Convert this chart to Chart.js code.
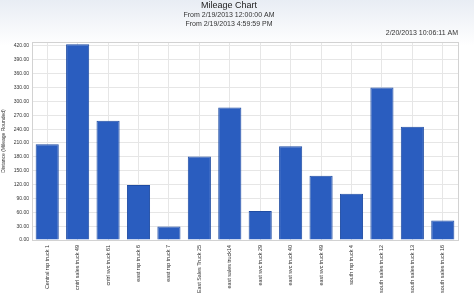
<!DOCTYPE html>
<html>
<head>
<meta charset="utf-8">
<script src="https://cdn.jsdelivr.net/npm/chart.js@4"></script>
<style>
  html, body { margin: 0; padding: 0; }
  body { width: 474px; height: 296px; background: linear-gradient(#e8edf4 0px, #ffffff 46px); }
</style>
</head>
<body>
<canvas id="MileageChart" width="474" height="296"></canvas>
<script>
// data
const trucks = [
    'Central rsp truck 1',
    'cntrl sales truck 49',
    'cntrl svc truck 61',
    'east rsp truck 6',
    'east rsp truck 7',
    'East Sales Truck 25',
    'east sales truck14',
    'east svc truck 29',
    'east svc truck 40',
    'east svc truck 49',
    'south rsp truck 4',
    'south sales truck 12',
    'south sales truck 13',
    'south sales truck 16'
];
const miles = [207, 424, 258, 119, 29, 181, 287, 63, 203, 139, 100, 330, 245, 42];

const chartTitle = 'Mileage Chart';
const fromLines = ['From 2/19/2013 12:00:00 AM', 'From 2/19/2013 4:59:59 PM'];
const stamp = '2/20/2013 10:06:11 AM';
const yTitle = 'Distance (Mileage Rounded)';
const yStep = 30;
const yMax = 428.6;

const FONT = "'Liberation Sans', Arial, sans-serif";

// frame round the plot + the timestamp line
const framePlugin = {
    id: 'frame',
    afterDraw(chart) {
        const {ctx, chartArea} = chart;
        ctx.save();
        ctx.strokeStyle = '#d2d2d2';
        ctx.lineWidth = 1;
        ctx.strokeRect(chartArea.left + 0.5, chartArea.top + 0.5,
            chartArea.right - chartArea.left, chartArea.bottom - chartArea.top);
        ctx.fillStyle = '#333';
        ctx.font = '7px ' + FONT;
        ctx.textAlign = 'right';
        ctx.textBaseline = 'middle';
        ctx.fillText(stamp, chartArea.right, 33);
        ctx.restore();
    }
};

const config_Bar = {
    type: 'bar',
    data: {
        labels: trucks,
        datasets: [{
            label: 'Distance',
            data: miles,
            backgroundColor: '#2a5dbf',
            borderColor: '#1f4ca3',
            borderWidth: 1,
            barPercentage: 0.76,
            categoryPercentage: 1
        }]
    },
    options: {
        responsive: false,
        animation: false,
        layout: {
            padding: { left: 0, right: 16, top: 0, bottom: 0 }
        },
        scales: {
            x: {
                afterFit: (scale) => { scale.height = 56; },
                grid: {
                    offset: false,
                    color: '#e6e6e6',
                    drawTicks: false
                },
                border: { color: '#c8c8c8' },
                ticks: {
                    autoSkip: false,
                    minRotation: 90,
                    maxRotation: 90,
                    padding: 5,
                    color: '#333',
                    font: { family: FONT, size: 5.4 }
                }
            },
            y: {
                min: 0,
                max: yMax,
                afterFit: (scale) => { scale.width = 32; },
                grid: {
                    color: '#e6e6e6',
                    drawTicks: false
                },
                border: { color: '#c8c8c8' },
                ticks: {
                    stepSize: yStep,
                    includeBounds: false,
                    padding: 3,
                    color: '#333',
                    font: { family: FONT, size: 5 },
                    callback: (v) => v.toFixed(2)
                },
                title: {
                    display: true,
                    text: yTitle,
                    color: '#333',
                    padding: { top: 1, bottom: 0 },
                    font: { family: FONT, size: 5 }
                }
            }
        },
        plugins: {
            legend: { display: false },
            tooltip: { enabled: false },
            title: {
                display: true,
                text: chartTitle,
                color: '#222',
                padding: { top: 0, bottom: 0 },
                font: { family: FONT, size: 9, weight: 'normal', lineHeight: 1.2 }
            },
            subtitle: {
                display: true,
                text: fromLines,
                color: '#333',
                padding: { top: 0, bottom: 13.2 },
                font: { family: FONT, size: 7, lineHeight: 9 / 7 }
            }
        }
    },
    plugins: [framePlugin]
};

const myChart_Bar = new Chart(
    document.getElementById('MileageChart'),
    config_Bar
);
</script>
</body>
</html>
